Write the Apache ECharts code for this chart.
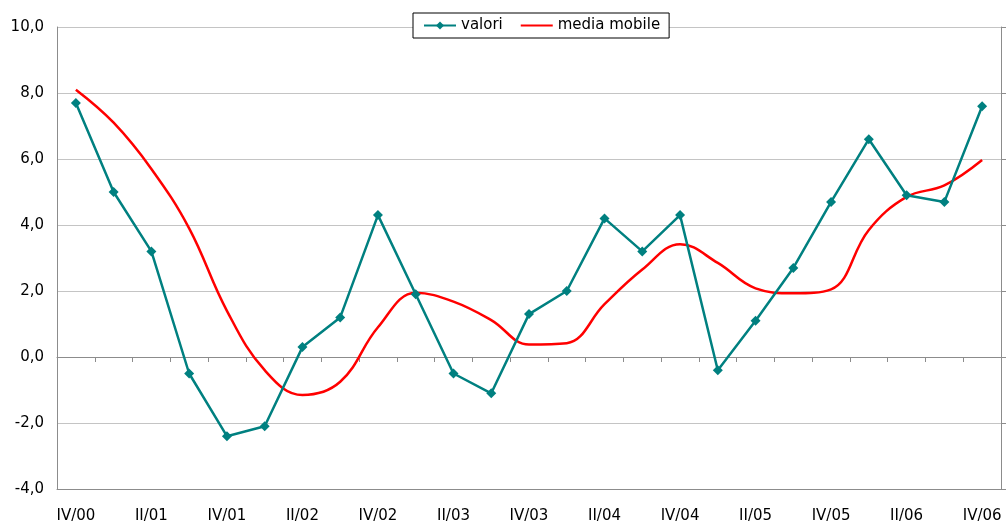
<!DOCTYPE html>
<html>
<head>
<meta charset="utf-8">
<script src="https://cdn.jsdelivr.net/npm/echarts@6/dist/echarts.min.js"></script>
<style>
  html, body { margin: 0; padding: 0; background: #fff; }
  #chart { width: 1007px; height: 524px; }
</style>
</head>
<body>
<div id="chart"></div>
<script>
var quarters = ['IV/00', 'I/01', 'II/01', 'III/01', 'IV/01', 'I/02', 'II/02', 'III/02', 'IV/02',
  'I/03', 'II/03', 'III/03', 'IV/03', 'I/04', 'II/04', 'III/04', 'IV/04',
  'I/05', 'II/05', 'III/05', 'IV/05', 'I/06', 'II/06', 'III/06', 'IV/06'];

var valori = [7.7, 5.0, 3.2, -0.5, -2.4, -2.1, 0.3, 1.2, 4.3,
  1.9, -0.5, -1.1, 1.3, 2.0, 4.2, 3.2, 4.3,
  -0.4, 1.1, 2.7, 4.7, 6.6, 4.9, 4.7, 7.6];

var mediaMobile = [8.1, 7.1, 5.7, 3.9, 1.4, -0.4, -1.15, -0.75, 0.9,
  1.95, 1.68, 1.12, 0.38, 0.42, 1.6, 2.65, 3.42,
  2.85, 2.08, 1.93, 2.05, 3.85, 4.85, 5.2, 5.97];

var yMin = -4, yMax = 10, yStep = 2;

var font = 'DejaVu Sans';
var chart = echarts.init(document.getElementById('chart'));

chart.setOption({
  animation: false,
  textStyle: { fontFamily: font },
  grid: { left: 57, right: 6, top: 27, bottom: 35, containLabel: false, outerBoundsMode: 'none' },
  legend: {
    top: 13,
    left: 413,
    padding: [5, 9, 5, 10],
    itemGap: 17,
    itemWidth: 32,
    itemHeight: 10,
    backgroundColor: '#fff',
    borderColor: '#000',
    borderWidth: 1,
    borderRadius: 0,
    textStyle: { fontFamily: font, fontSize: 15, color: '#000' },
    data: [
      'valori',
      { name: 'media mobile', itemStyle: { opacity: 0 } }
    ]
  },
  xAxis: [
    {
      type: 'category',
      data: quarters,
      position: 'bottom',
      axisLine: { onZero: true, lineStyle: { color: '#8c8c8c', width: 1 } },
      axisTick: { show: true, interval: 0, length: 5, lineStyle: { color: '#8c8c8c' } },
      axisLabel: { show: false },
      splitLine: { show: false }
    },
    {
      type: 'category',
      data: quarters,
      position: 'bottom',
      axisLine: { onZero: false, lineStyle: { color: '#8c8c8c', width: 1 } },
      axisTick: { show: false },
      axisLabel: { interval: 1, margin: 20, fontFamily: font, fontSize: 15, color: '#000' },
      splitLine: { show: false }
    }
  ],
  yAxis: [
    {
      type: 'value',
      min: yMin,
      max: yMax,
      interval: yStep,
      axisLine: { show: true, lineStyle: { color: '#8c8c8c' } },
      axisTick: { show: false },
      axisLabel: {
        margin: 13,
        fontFamily: font,
        fontSize: 15,
        color: '#000',
        formatter: function (v) { return v.toFixed(1).replace('.', ','); }
      },
      splitLine: { show: true, lineStyle: { color: '#c4c4c4', width: 1 } }
    },
    {
      type: 'value',
      position: 'right',
      min: yMin,
      max: yMax,
      interval: yStep,
      axisLine: { show: true, lineStyle: { color: '#8c8c8c' } },
      axisTick: { show: true, length: 5, lineStyle: { color: '#8c8c8c' } },
      axisLabel: { show: false },
      splitLine: { show: false }
    }
  ],
  series: [
    {
      name: 'valori',
      type: 'line',
      xAxisIndex: 0,
      yAxisIndex: 0,
      data: valori,
      color: '#008080',
      lineStyle: { width: 2.5, color: '#008080' },
      symbol: 'diamond',
      symbolSize: 10,
      itemStyle: { color: '#008080' },
      z: 3
    },
    {
      name: 'media mobile',
      type: 'line',
      xAxisIndex: 0,
      yAxisIndex: 0,
      data: mediaMobile,
      color: '#ff0000',
      smooth: 0.4,
      showSymbol: false,
      symbol: 'none',
      lineStyle: { width: 2.5, color: '#ff0000' },
      itemStyle: { color: '#ff0000' },
      z: 2
    }
  ]
});
</script>
</body>
</html>
